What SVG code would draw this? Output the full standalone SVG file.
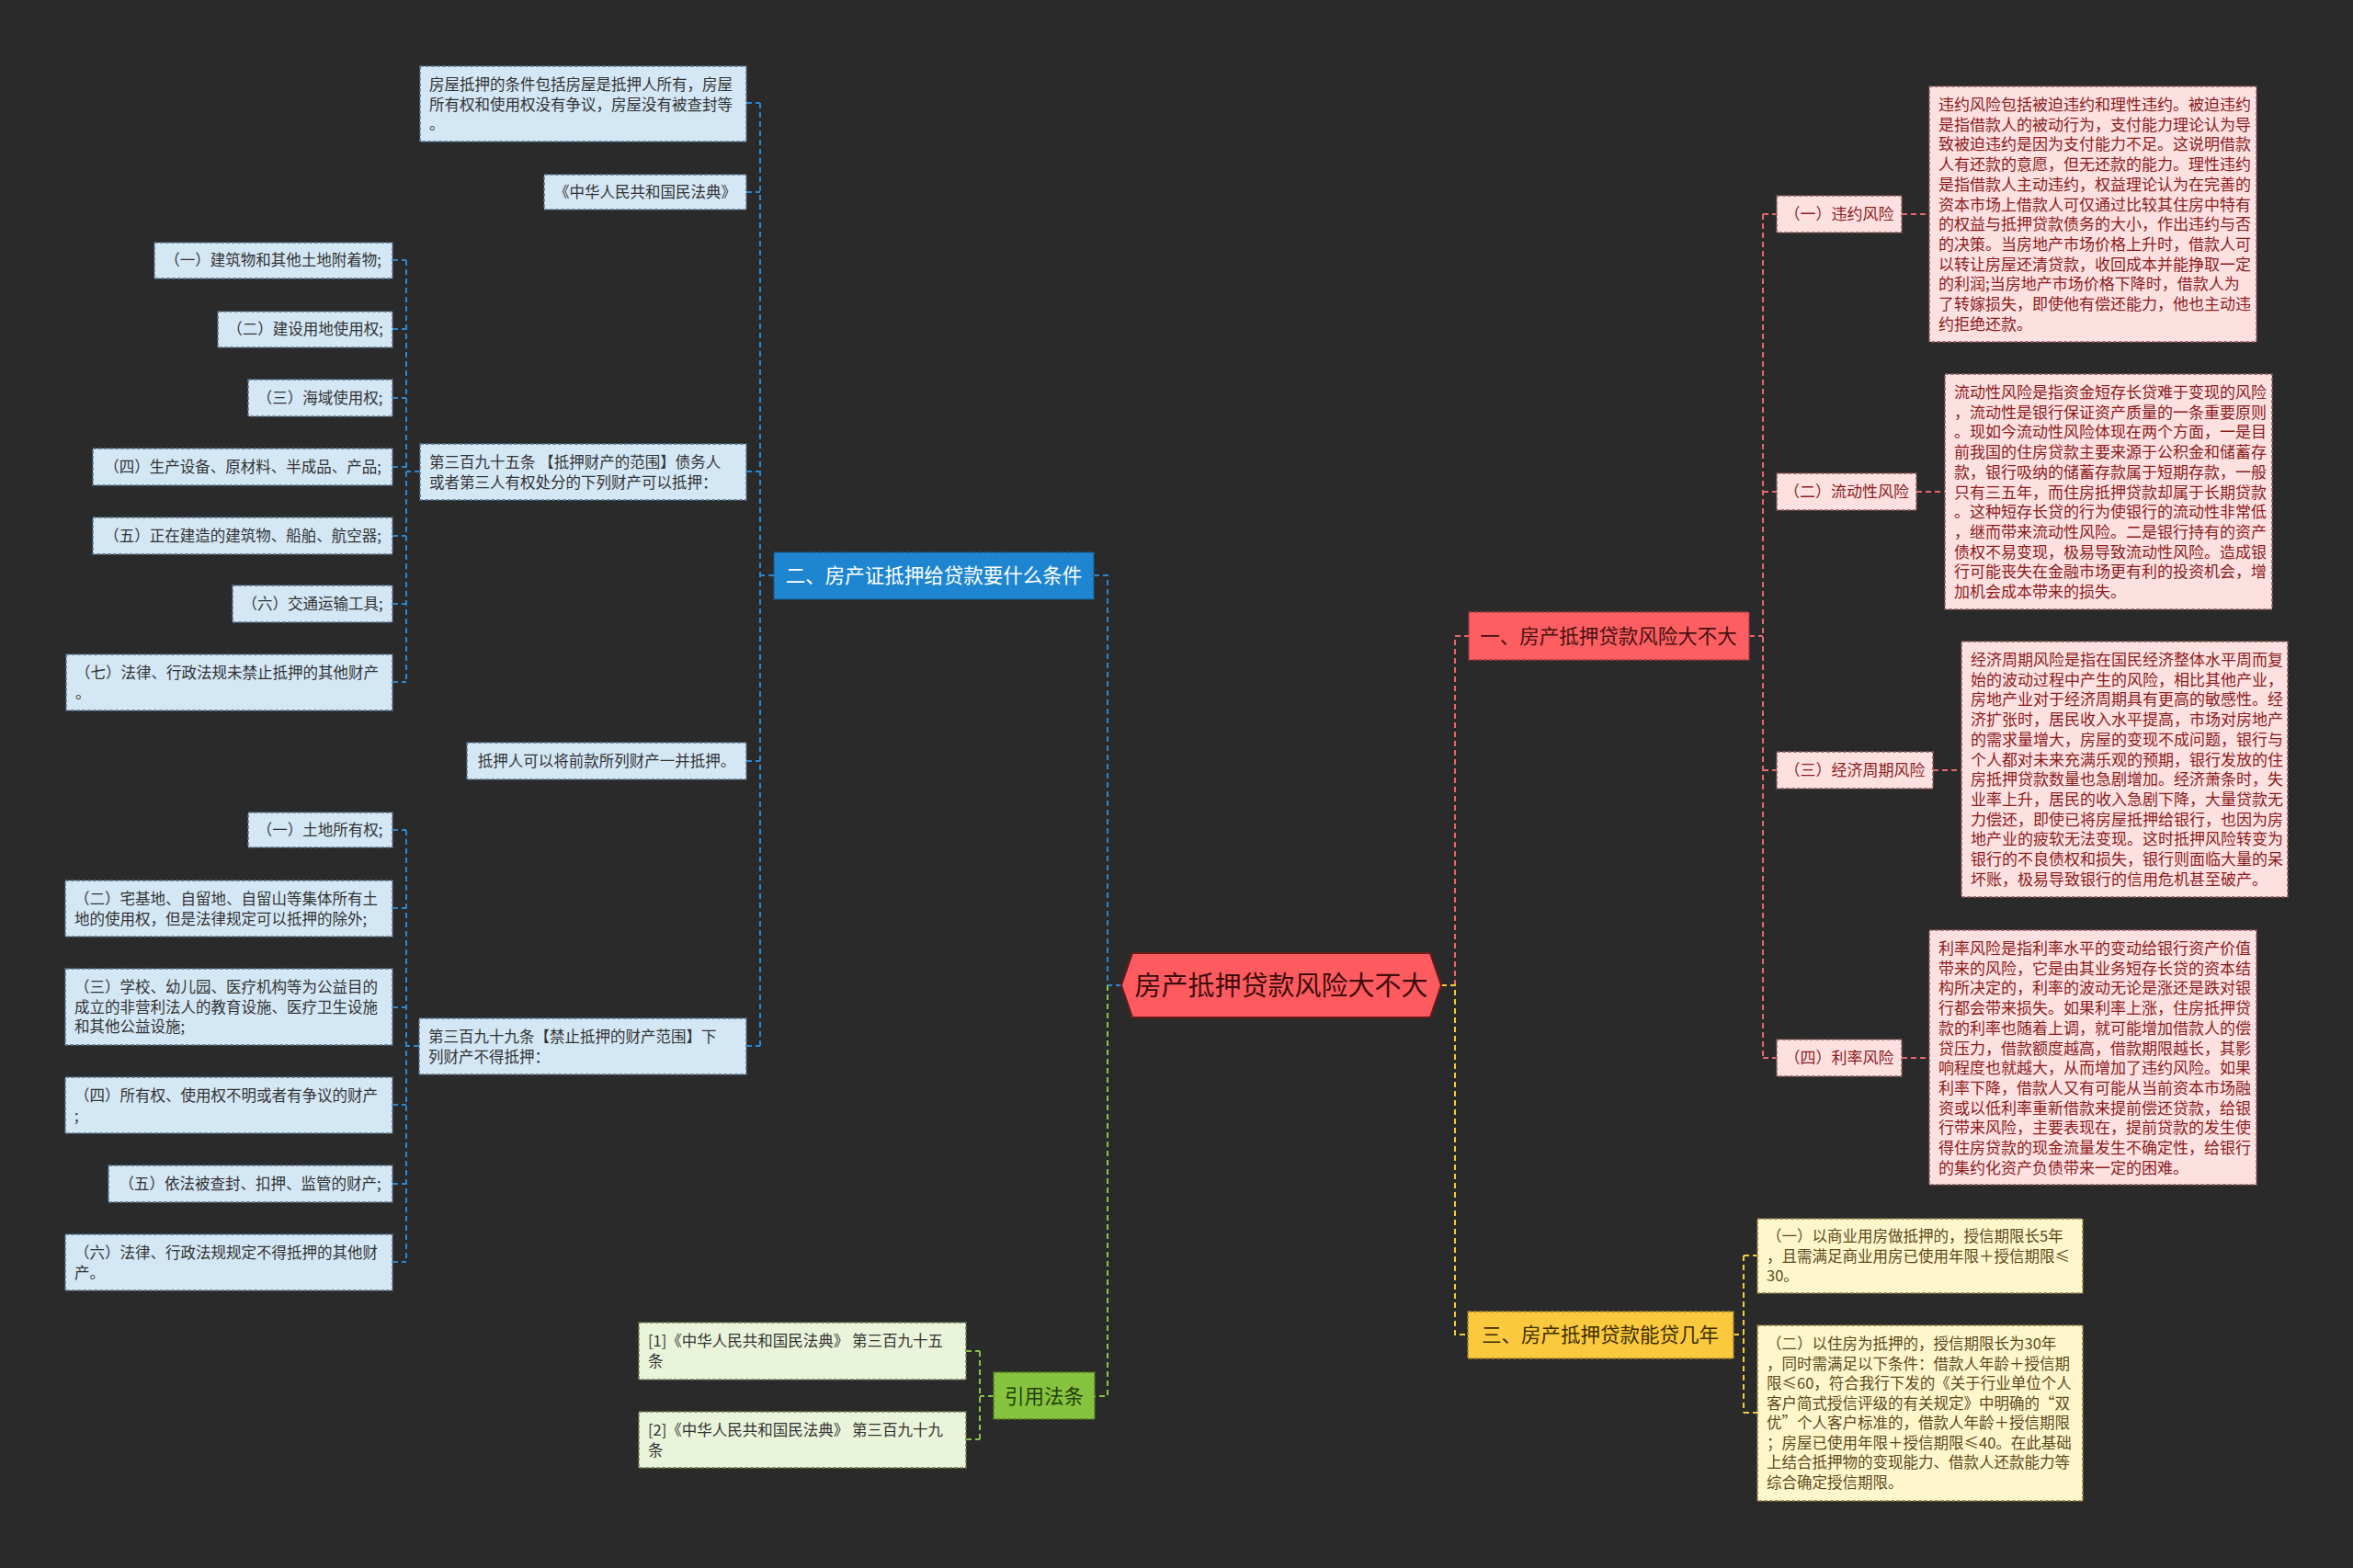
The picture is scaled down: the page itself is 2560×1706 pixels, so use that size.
<svg xmlns="http://www.w3.org/2000/svg" width="2560" height="1706" viewBox="0 0 2560 1706">
<style>
text{font-family:"Noto Sans CJK SC","Noto Sans",sans-serif}
.c{fill:none;stroke-width:2;stroke-dasharray:6 4}
.cb{stroke:#2a87cf}.cr{stroke:#e8676b}.cy{stroke:#f2cc3a}.cg{stroke:#8bc34a}
.lb rect{fill:#d4e7f5;stroke:#56738c;stroke-width:1.5;stroke-dasharray:4 2}
.lb text{fill:#333;font-size:16.5px}
.lg rect{fill:#e9f4da;stroke:#6a7d52;stroke-width:1.5;stroke-dasharray:4 2}
.lg text{fill:#333;font-size:16.5px}
.ly rect{fill:#fff6cc;stroke:#8a7a3a;stroke-width:1.5;stroke-dasharray:4 2}
.ly text{fill:#5a4a1a;font-size:16.5px}
.lp rect{fill:#fde1e1;stroke:#8a5a5a;stroke-width:1.5;stroke-dasharray:4 2}
.lp text{fill:#8b1c1c;font-size:17px}
.mid{text-anchor:middle}
.br text{font-size:21.5px;text-anchor:middle}
.br rect{stroke-width:1.5;stroke-dasharray:4 2}
</style>
<rect width="2560" height="1706" fill="#2a2a2a"/>

<g id="connectors">
<path class="c cr" d="M1583,1072 V692 H1598"/>
<path class="c cy" d="M1568,1072 H1583 V1452 H1597"/>
<path class="c cr" d="M1903,692 H1918 M1918,233 V1151 M1918,233 H1933 M1918,535 H1933 M1918,838 H1933 M1918,1151 H1933"/>
<path class="c cr" d="M2069,233 H2099 M2085,535 H2116 M2103,838 H2134 M2069,1151 H2099"/>
<path class="c cb" d="M1220,1072 H1205 V626 H1190"/>
<path class="c cb" d="M842,626 H827 M827,112 V1138 M812,112 H827 M812,209 H827 M812,513 H827 M812,828 H827 M812,1138 H827"/>
<path class="c cb" d="M457,513 H442 M442,283 V742 M427,283 H442 M427,358 H442 M427,433 H442 M427,508 H442 M427,583 H442 M427,657 H442 M427,742 H442"/>
<path class="c cb" d="M456,1138 H442 M442,903 V1373 M427,903 H442 M427,988 H442 M427,1096 H442 M427,1202 H442 M427,1288 H442 M427,1373 H442"/>
<path class="c cg" d="M1205,1072 V1519 H1191"/>
<path class="c cg" d="M1081,1519 H1066 M1066,1470 V1566 M1051,1470 H1066 M1051,1566 H1066"/>
<path class="c cy" d="M1886,1452 H1897 M1897,1366 V1537 M1897,1366 H1912 M1897,1537 H1912"/>
</g>

<g id="root">
<polygon points="1220,1072 1232,1037 1556,1037 1568,1072 1556,1107 1232,1107" fill="#fd5b5f" stroke="#6a1a1a" stroke-width="2"/>
<text x="1394" y="1083" text-anchor="middle" font-size="29" fill="#3d0c0c">房产抵押贷款风险大不大</text>
</g>

<g id="b1" class="br"><rect x="1598" y="666" width="305" height="52" fill="#fd5e62" stroke="#a53a3a"/><text x="1750" y="700" fill="#451010">一、房产抵押贷款风险大不大</text></g>
<g id="b2" class="br"><rect x="842" y="601" width="348" height="51" fill="#1e86d0" stroke="#155c90"/><text x="1016" y="634" fill="#ffffff">二、房产证抵押给贷款要什么条件</text></g>
<g id="b3" class="br"><rect x="1597" y="1427" width="289" height="51" fill="#fbc93e" stroke="#a0822a"/><text x="1741" y="1460" fill="#3d2e00">三、房产抵押贷款能贷几年</text></g>
<g id="b4" class="br"><rect x="1081" y="1493" width="110" height="51" fill="#86c43f" stroke="#4f7a22"/><text x="1136" y="1527" fill="#243f08">引用法条</text></g>

<g id="p1" class="lp"><rect x="1933" y="213" width="136" height="40"/><text class="mid" x="2001" y="239">（一）违约风险</text></g>
<g id="p2" class="lp"><rect x="1933" y="515" width="152" height="40"/><text class="mid" x="2009" y="541">（二）流动性风险</text></g>
<g id="p3" class="lp"><rect x="1933" y="818" width="170" height="40"/><text class="mid" x="2018" y="844">（三）经济周期风险</text></g>
<g id="p4" class="lp"><rect x="1933" y="1131" width="136" height="40"/><text class="mid" x="2001" y="1157">（四）利率风险</text></g>

<g id="r1" class="lp"><rect x="2099" y="94" width="356" height="278"/>
<text x="2109" y="120"><tspan x="2109">违约风险包括被迫违约和理性违约。被迫违约</tspan><tspan x="2109" dy="21.7">是指借款人的被动行为，支付能力理论认为导</tspan><tspan x="2109" dy="21.7">致被迫违约是因为支付能力不足。这说明借款</tspan><tspan x="2109" dy="21.7">人有还款的意愿，但无还款的能力。理性违约</tspan><tspan x="2109" dy="21.7">是指借款人主动违约，权益理论认为在完善的</tspan><tspan x="2109" dy="21.7">资本市场上借款人可仅通过比较其住房中特有</tspan><tspan x="2109" dy="21.7">的权益与抵押贷款债务的大小，作出违约与否</tspan><tspan x="2109" dy="21.7">的决策。当房地产市场价格上升时，借款人可</tspan><tspan x="2109" dy="21.7">以转让房屋还清贷款，收回成本并能挣取一定</tspan><tspan x="2109" dy="21.7">的利润;当房地产市场价格下降时，借款人为</tspan><tspan x="2109" dy="21.7">了转嫁损失，即使他有偿还能力，他也主动违</tspan><tspan x="2109" dy="21.7">约拒绝还款。</tspan></text></g>

<g id="r2" class="lp"><rect x="2116" y="407" width="356" height="256"/>
<text x="2126" y="433"><tspan x="2126">流动性风险是指资金短存长贷难于变现的风险</tspan><tspan x="2126" dy="21.7">，流动性是银行保证资产质量的一条重要原则</tspan><tspan x="2126" dy="21.7">。现如今流动性风险体现在两个方面，一是目</tspan><tspan x="2126" dy="21.7">前我国的住房贷款主要来源于公积金和储蓄存</tspan><tspan x="2126" dy="21.7">款，银行吸纳的储蓄存款属于短期存款，一般</tspan><tspan x="2126" dy="21.7">只有三五年，而住房抵押贷款却属于长期贷款</tspan><tspan x="2126" dy="21.7">。这种短存长贷的行为使银行的流动性非常低</tspan><tspan x="2126" dy="21.7">，继而带来流动性风险。二是银行持有的资产</tspan><tspan x="2126" dy="21.7">债权不易变现，极易导致流动性风险。造成银</tspan><tspan x="2126" dy="21.7">行可能丧失在金融市场更有利的投资机会，增</tspan><tspan x="2126" dy="21.7">加机会成本带来的损失。</tspan></text></g>

<g id="r3" class="lp"><rect x="2134" y="698" width="355" height="278"/>
<text x="2144" y="724"><tspan x="2144">经济周期风险是指在国民经济整体水平周而复</tspan><tspan x="2144" dy="21.7">始的波动过程中产生的风险，相比其他产业，</tspan><tspan x="2144" dy="21.7">房地产业对于经济周期具有更高的敏感性。经</tspan><tspan x="2144" dy="21.7">济扩张时，居民收入水平提高，市场对房地产</tspan><tspan x="2144" dy="21.7">的需求量增大，房屋的变现不成问题，银行与</tspan><tspan x="2144" dy="21.7">个人都对未来充满乐观的预期，银行发放的住</tspan><tspan x="2144" dy="21.7">房抵押贷款数量也急剧增加。经济萧条时，失</tspan><tspan x="2144" dy="21.7">业率上升，居民的收入急剧下降，大量贷款无</tspan><tspan x="2144" dy="21.7">力偿还，即使已将房屋抵押给银行，也因为房</tspan><tspan x="2144" dy="21.7">地产业的疲软无法变现。这时抵押风险转变为</tspan><tspan x="2144" dy="21.7">银行的不良债权和损失，银行则面临大量的呆</tspan><tspan x="2144" dy="21.7">坏账，极易导致银行的信用危机甚至破产。</tspan></text></g>

<g id="r4" class="lp"><rect x="2099" y="1012" width="356" height="277"/>
<text x="2109" y="1038"><tspan x="2109">利率风险是指利率水平的变动给银行资产价值</tspan><tspan x="2109" dy="21.7">带来的风险，它是由其业务短存长贷的资本结</tspan><tspan x="2109" dy="21.7">构所决定的，利率的波动无论是涨还是跌对银</tspan><tspan x="2109" dy="21.7">行都会带来损失。如果利率上涨，住房抵押贷</tspan><tspan x="2109" dy="21.7">款的利率也随着上调，就可能增加借款人的偿</tspan><tspan x="2109" dy="21.7">贷压力，借款额度越高，借款期限越长，其影</tspan><tspan x="2109" dy="21.7">响程度也就越大，从而增加了违约风险。如果</tspan><tspan x="2109" dy="21.7">利率下降，借款人又有可能从当前资本市场融</tspan><tspan x="2109" dy="21.7">资或以低利率重新借款来提前偿还贷款，给银</tspan><tspan x="2109" dy="21.7">行带来风险，主要表现在，提前贷款的发生使</tspan><tspan x="2109" dy="21.7">得住房贷款的现金流量发生不确定性，给银行</tspan><tspan x="2109" dy="21.7">的集约化资产负债带来一定的困难。</tspan></text></g>

<g id="y1" class="ly"><rect x="1912" y="1326" width="354" height="81"/>
<text x="1922" y="1351"><tspan x="1922">（一）以商业用房做抵押的，授信期限长5年</tspan><tspan x="1922" dy="21.5">，且需满足商业用房已使用年限＋授信期限≤</tspan><tspan x="1922" dy="21.5">30。</tspan></text></g>
<g id="y2" class="ly"><rect x="1912" y="1442" width="354" height="191"/>
<text x="1922" y="1468"><tspan x="1922">（二）以住房为抵押的，授信期限长为30年</tspan><tspan x="1922" dy="21.5">，同时需满足以下条件：借款人年龄＋授信期</tspan><tspan x="1922" dy="21.5">限≤60，符合我行下发的《关于行业单位个人</tspan><tspan x="1922" dy="21.5">客户简式授信评级的有关规定》中明确的“双</tspan><tspan x="1922" dy="21.5">优”个人客户标准的，借款人年龄＋授信期限</tspan><tspan x="1922" dy="21.5">；房屋已使用年限＋授信期限≤40。在此基础</tspan><tspan x="1922" dy="21.5">上结合抵押物的变现能力、借款人还款能力等</tspan><tspan x="1922" dy="21.5">综合确定授信期限。</tspan></text></g>

<g id="g1" class="lg"><rect x="695" y="1439" width="356" height="62"/>
<text x="705" y="1465"><tspan x="705">[1]《中华人民共和国民法典》 第三百九十五</tspan><tspan x="705" dy="21.5">条</tspan></text></g>
<g id="g2" class="lg"><rect x="695" y="1536" width="356" height="61"/>
<text x="705" y="1562"><tspan x="705">[2]《中华人民共和国民法典》 第三百九十九</tspan><tspan x="705" dy="21.5">条</tspan></text></g>

<g id="L1" class="lb"><rect x="457" y="72" width="355" height="82"/>
<text x="467" y="98"><tspan x="467">房屋抵押的条件包括房屋是抵押人所有，房屋</tspan><tspan x="467" dy="21.5">所有权和使用权没有争议，房屋没有被查封等</tspan><tspan x="467" dy="21.5">。</tspan></text></g>
<g id="L2" class="lb"><rect x="592" y="190" width="220" height="38"/><text class="mid" x="702" y="215">《中华人民共和国民法典》</text></g>
<g id="L3" class="lb"><rect x="457" y="483" width="355" height="61"/>
<text x="467" y="509"><tspan x="467">第三百九十五条 【抵押财产的范围】债务人</tspan><tspan x="467" dy="21.5">或者第三人有权处分的下列财产可以抵押：</tspan></text></g>
<g id="L4" class="lb"><rect x="508" y="808" width="304" height="40"/><text class="mid" x="660" y="834">抵押人可以将前款所列财产一并抵押。</text></g>
<g id="L5" class="lb"><rect x="456" y="1108" width="356" height="61"/>
<text x="466" y="1134"><tspan x="466">第三百九十九条【禁止抵押的财产范围】下</tspan><tspan x="466" dy="21.5">列财产不得抵押：</tspan></text></g>

<g id="c1" class="lb"><rect x="168" y="264" width="259" height="39"/><text class="mid" x="297" y="289">（一）建筑物和其他土地附着物;</text></g>
<g id="c2" class="lb"><rect x="237" y="339" width="190" height="39"/><text class="mid" x="332" y="364">（二）建设用地使用权;</text></g>
<g id="c3" class="lb"><rect x="270" y="413" width="157" height="40"/><text class="mid" x="348" y="439">（三）海域使用权;</text></g>
<g id="c4" class="lb"><rect x="101" y="488" width="326" height="40"/><text class="mid" x="264" y="514">（四）生产设备、原材料、半成品、产品;</text></g>
<g id="c5" class="lb"><rect x="101" y="563" width="326" height="40"/><text class="mid" x="264" y="589">（五）正在建造的建筑物、船舶、航空器;</text></g>
<g id="c6" class="lb"><rect x="253" y="637" width="174" height="40"/><text class="mid" x="340" y="663">（六）交通运输工具;</text></g>
<g id="c7" class="lb"><rect x="72" y="712" width="355" height="61"/>
<text x="82" y="738"><tspan x="82">（七）法律、行政法规未禁止抵押的其他财产</tspan><tspan x="82" dy="21.5">。</tspan></text></g>

<g id="d1" class="lb"><rect x="270" y="884" width="157" height="38"/><text class="mid" x="348" y="909">（一）土地所有权;</text></g>
<g id="d2" class="lb"><rect x="71" y="958" width="356" height="61"/>
<text x="81" y="984"><tspan x="81">（二）宅基地、自留地、自留山等集体所有土</tspan><tspan x="81" dy="21.5">地的使用权，但是法律规定可以抵押的除外;</tspan></text></g>
<g id="d3" class="lb"><rect x="71" y="1054" width="356" height="83"/>
<text x="81" y="1080"><tspan x="81">（三）学校、幼儿园、医疗机构等为公益目的</tspan><tspan x="81" dy="21.5">成立的非营利法人的教育设施、医疗卫生设施</tspan><tspan x="81" dy="21.5">和其他公益设施;</tspan></text></g>
<g id="d4" class="lb"><rect x="71" y="1172" width="356" height="61"/>
<text x="81" y="1198"><tspan x="81">（四）所有权、使用权不明或者有争议的财产</tspan><tspan x="81" dy="21.5">;</tspan></text></g>
<g id="d5" class="lb"><rect x="118" y="1268" width="309" height="40"/><text class="mid" x="272" y="1294">（五）依法被查封、扣押、监管的财产;</text></g>
<g id="d6" class="lb"><rect x="71" y="1343" width="356" height="61"/>
<text x="81" y="1369"><tspan x="81">（六）法律、行政法规规定不得抵押的其他财</tspan><tspan x="81" dy="21.5">产。</tspan></text></g>
</svg>
